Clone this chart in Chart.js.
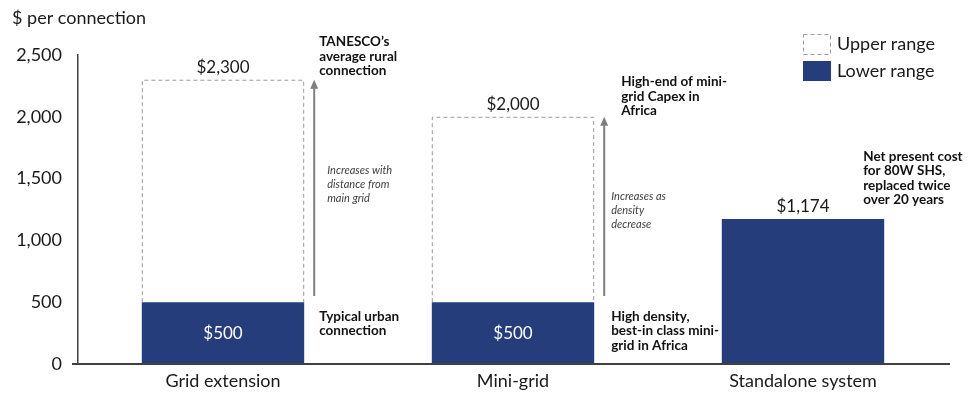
<!DOCTYPE html>
<html>
<head>
<meta charset="utf-8">
<script src="https://cdn.jsdelivr.net/npm/chart.js@4"></script>
<style>
  html, body { margin: 0; padding: 0; background: #fff; }
  #wrap { width: 968px; height: 404px; }
</style>
</head>
<body>
<div id="wrap"><canvas id="canvas"></canvas></div>
<script>
const categories = ['Grid extension', 'Mini-grid', 'Standalone system'];
const lowerRange = [500, 500, 1174];
const upperRange = [1800, 1500, 0];
const yTicks = [0, 500, 1000, 1500, 2000, 2500];

const BLUE = '#253d7b';
const FONT = 'Lato, "Liberation Sans", sans-serif';

// notes beside the bars: [category index, offset from bar's right edge, value at text top, lines, style]
const notes = [
    [0, 15, 2662, ["TANESCO\u2019s", 'average rural', 'connection'], 'bold'],
    [0, 23, 1610, ['Increases with', 'distance from', 'main grid'], 'italic'],
    [0, 15, 440, ['Typical urban', 'connection'], 'bold'],
    [1, 27, 2338, ['High-end of mini-', 'grid Capex in', 'Africa'], 'bold'],
    [1, 17, 1400, ['Increases as', 'density', 'decrease'], 'italic'],
    [1, 17, 440, ['High density,', 'best-in class mini-', 'grid in Africa'], 'bold'],
    [2, -21, 1735, ['Net present cost', 'for 80W SHS,', 'replaced twice', 'over 20 years'], 'bold']
];

const extras = {
    id: 'extras',
    afterDatasetsDraw(chart) {
        const ctx = chart.ctx;
        const x = chart.scales.x, y = chart.scales.y;
        const lower = chart.getDatasetMeta(0).data;
        const upper = chart.getDatasetMeta(1).data;
        ctx.save();

        // dashed outline for upper range
        ctx.strokeStyle = '#9a9a9a';
        ctx.lineWidth = 1;
        ctx.setLineDash([4, 3]);
        upper.forEach((b, i) => {
            if (!upperRange[i]) return;
            const l = b.x - b.width / 2, r = b.x + b.width / 2;
            ctx.beginPath();
            ctx.moveTo(l + 0.5, b.base);
            ctx.lineTo(l + 0.5, b.y + 0.5);
            ctx.lineTo(r - 0.5, b.y + 0.5);
            ctx.lineTo(r - 0.5, b.base);
            ctx.stroke();
        });
        ctx.setLineDash([]);

        // value labels
        ctx.textAlign = 'center';
        ctx.textBaseline = 'bottom';
        ctx.font = '17px ' + FONT;
        ctx.fillStyle = '#1a1a1a';
        categories.forEach((c, i) => {
            const total = lowerRange[i] + upperRange[i];
            const top = upperRange[i] ? upper[i].y : lower[i].y;
            ctx.fillText('$' + total.toLocaleString('en-US'), lower[i].x, top - 4);
        });
        ctx.fillStyle = '#fff';
        ctx.textBaseline = 'middle';
        categories.forEach((c, i) => {
            if (!upperRange[i]) return;
            const b = lower[i];
            ctx.fillText('$' + lowerRange[i], b.x, (b.y + b.base) / 2);
        });

        // arrows
        ctx.strokeStyle = '#7f7f7f';
        ctx.fillStyle = '#7f7f7f';
        ctx.lineWidth = 2;
        categories.forEach((c, i) => {
            if (!upperRange[i]) return;
            const b = upper[i];
            const ax = b.x + b.width / 2 + 10;
            const y0 = y.getPixelForValue(lowerRange[i] + 50);
            const y1 = y.getPixelForValue(lowerRange[i] + upperRange[i]);
            ctx.beginPath();
            ctx.moveTo(ax, y0);
            ctx.lineTo(ax, y1 + 6);
            ctx.stroke();
            ctx.beginPath();
            ctx.moveTo(ax, y1);
            ctx.lineTo(ax - 4, y1 + 9);
            ctx.lineTo(ax + 4, y1 + 9);
            ctx.closePath();
            ctx.fill();
        });

        // notes
        ctx.textAlign = 'left';
        ctx.textBaseline = 'top';
        notes.forEach(n => {
            const b = lower[n[0]];
            const italic = n[4] === 'italic';
            const tx = b.x + b.width / 2 + n[1];
            let ty = y.getPixelForValue(n[2]);
            ctx.font = italic ? 'italic 11px ' + FONT : 'bold 13.5px ' + FONT;
            ctx.fillStyle = italic ? '#404040' : '#111';
            n[3].forEach(line => {
                ctx.fillText(line, tx, ty);
                ty += italic ? 14 : 14.6;
            });
        });

        // x axis line, starting just left of the y axis
        ctx.strokeStyle = '#404040';
        ctx.lineWidth = 2;
        ctx.beginPath();
        ctx.moveTo(y.right - 6, y.bottom);
        ctx.lineTo(x.right + 2, y.bottom);
        ctx.stroke();

        // axis title
        ctx.font = '18px ' + FONT;
        ctx.fillStyle = '#1a1a1a';
        ctx.textBaseline = 'middle';
        ctx.fillText('$ per connection', 12, 18);

        // legend
        const lx = 803;
        ctx.lineWidth = 1;
        ctx.strokeStyle = '#9a9a9a';
        ctx.setLineDash([4, 3]);
        ctx.strokeRect(lx + 0.5, 34.5, 27, 20);
        ctx.setLineDash([]);
        ctx.fillStyle = BLUE;
        ctx.fillRect(lx, 61, 28, 20);
        ctx.fillStyle = '#1a1a1a';
        ctx.fillText('Upper range', lx + 34, 44);
        ctx.fillText('Lower range', lx + 34, 71);
        ctx.restore();
    }
};

new Chart(document.getElementById('canvas').getContext('2d'), {
    type: 'bar',
    data: {
        labels: categories,
        datasets: [{
            label: 'Lower range',
            data: lowerRange,
            backgroundColor: BLUE,
            borderWidth: 0
        }, {
            label: 'Upper range',
            data: upperRange,
            backgroundColor: 'rgba(255,255,255,0)',
            borderWidth: 0
        }]
    },
    plugins: [extras],
    options: {
        responsive: true,
        maintainAspectRatio: false,
        animation: false,
        events: [],
        datasets: { bar: { categoryPercentage: 1, barPercentage: 0.56 } },
        layout: { padding: { top: 55, right: 20, left: 0, bottom: 0 } },
        plugins: { legend: { display: false }, tooltip: { enabled: false } },
        scales: {
            x: {
                stacked: true,
                grid: { display: false, drawTicks: false },
                border: { display: false },
                ticks: { color: '#1a1a1a', font: { family: FONT, size: 18 }, padding: 6 },
                afterFit: s => { s.height = 40; }
            },
            y: {
                stacked: true,
                min: 0,
                max: 2500,
                afterBuildTicks: s => { s.ticks = yTicks.map(v => ({ value: v })); },
                grid: { display: false, drawTicks: true, tickLength: 5, tickColor: '#404040', tickWidth: 1.5 },
                border: { display: true, color: '#404040', width: 1.5 },
                ticks: {
                    color: '#1a1a1a',
                    font: { family: FONT, size: 18 },
                    padding: 11,
                    callback: v => v.toLocaleString('en-US')
                },
                afterFit: s => { s.width = 78; }
            }
        }
    }
});
</script>
</body>
</html>
